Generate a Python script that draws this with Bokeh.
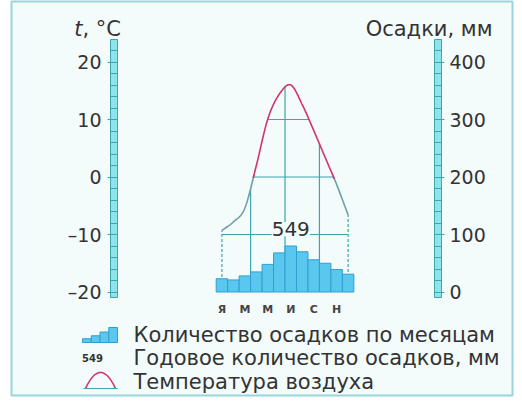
import numpy as np
from bokeh.plotting import figure
from bokeh.models import Range1d, LinearAxis, FixedTicker, Label
from bokeh.core.properties import value
from bokeh.embed import file_html
from bokeh.resources import INLINE

# ---------------- data ----------------
month_pos = [1, 2, 3, 4, 5, 6, 7, 8, 9, 10, 11, 12]
month_tick_pos = [1, 3, 5, 7, 9, 11]
month_tick_labels = ["Я", "М", "М", "И", "С", "Н"]
temperature = [-9.3, -7.8, -5.4, 2.0, 10.1, 14.4, 16.0, 12.6, 8.1, 3.4, -1.3, -6.6]
precipitation = [23, 21, 28, 35, 48, 68, 80, 70, 56, 50, 39, 31]
annual_total = "549"
temp_ticks = [-20, -10, 0, 10, 20]
temp_tick_labels = ["–20", "–10", "0", "10", "20"]
precip_ticks = [0, 100, 200, 300, 400]
precip_tick_labels = ["0", "100", "200", "300", "400"]
grid_levels = [-10, 0, 10]
grid_bounds = [3.5, 6.5, 9.5]
legend_labels = ["Количество осадков по месяцам",
                 "Годовое количество осадков, мм",
                 "Температура воздуха"]

# ---------------- layout helpers (canvas px -> data) ----------------
def X(px):
    return 0.5 + (px - 215.7) / 11.47

def Y(py):
    return (176.5 - py) / 5.75

BG = "#f3fbfb"
TEAL = "#3aa6ad"
TXT = "#333333"
FONT = "DejaVu Sans"

p = figure(width=514, height=397, output_backend="svg", toolbar_location=None,
           x_axis_type=None, y_axis_type=None,
           x_range=Range1d(X(11), X(512)), y_range=Range1d(Y(395), Y(1)),
           min_border_left=11, min_border_right=2, min_border_top=1, min_border_bottom=2,
           background_fill_color=BG, border_fill_color="white")
p.extra_y_ranges = {"precip": Range1d((Y(395) + 20) * 10, (Y(1) + 20) * 10)}
p.grid.visible = False
p.outline_line_color = "#9ad6d9"
p.outline_line_width = 2

# ---------------- temperature curve (smooth through monthly values) ----------------
xc = np.array(month_pos, dtype=float)
yc = np.array(temperature, dtype=float)
P = np.concatenate([[2 * yc[0] - yc[1]], yc, [2 * yc[-1] - yc[-2]]])
cx, cy = [], []
for i in range(len(yc) - 1):
    p0, p1, p2, p3 = P[i], P[i + 1], P[i + 2], P[i + 3]
    s = np.linspace(0, 1, 30, endpoint=False)
    yy = 0.5 * (2 * p1 + (-p0 + p2) * s + (2 * p0 - 5 * p1 + 4 * p2 - p3) * s ** 2
                + (-p0 + 3 * p1 - 3 * p2 + p3) * s ** 3)
    cx.append(xc[i] + s * (xc[i + 1] - xc[i]))
    cy.append(yy)
cx.append([xc[-1]]); cy.append([yc[-1]])
cx = np.concatenate(cx); cy = np.concatenate(cy)

# ---------------- inner grid ----------------
for lvl in grid_levels:
    m = cy >= lvl
    p.segment(x0=[cx[m].min()], y0=[lvl], x1=[cx[m].max()], y1=[lvl],
              line_color=TEAL, line_width=1.2)
for gx in grid_bounds:
    top = float(np.interp(gx, cx, cy))
    p.segment(x0=[gx], y0=[-20], x1=[gx], y1=[top], line_color=TEAL, line_width=1.2)
for gx in [month_pos[0], month_pos[-1]]:
    top = float(np.interp(gx, cx, cy))
    p.segment(x0=[gx], y0=[-20], x1=[gx], y1=[top], line_color=TEAL,
              line_width=1.2, line_dash="3 2")

# ---------------- precipitation bars ----------------
p.vbar(x=month_pos, top=precipitation, bottom=0, width=1.0, y_range_name="precip",
       fill_color="#5ac8ee", line_color="#2f9fd2", line_width=1)

# curve: red above 0, grey-teal below 0
pos = np.where(cy >= -0.4, cy, np.nan)
neg = np.where(cy <= 0.4, cy, np.nan)
p.line(cx, neg, line_color="#6e9ea8", line_width=1.6)
p.line(cx, pos, line_color="#d2336e", line_width=1.6)

p.add_layout(Label(x=7, y=-9.1, text=annual_total, text_align="center",
                   text_baseline="middle", text_font=FONT, text_font_size="20px",
                   text_color=TXT, background_fill_color=BG))

# ---------------- thermometer-like scales ----------------
p.quad(left=[X(110)], right=[X(117)], bottom=[Y(297)], top=[Y(39)],
       fill_color="#8fe3ea", line_color=TEAL, line_width=1)
p.quad(left=[X(434)], right=[X(441)], bottom=[Y(297)], top=[Y(39)],
       fill_color="#8fe3ea", line_color=TEAL, line_width=1)

def style_axis(ax):
    ax.axis_line_color = None
    ax.major_tick_line_color = TEAL
    ax.minor_tick_line_color = TEAL
    ax.major_tick_line_width = 1.2
    ax.minor_tick_line_width = 1
    ax.major_tick_in = 7
    ax.major_tick_out = 3
    ax.minor_tick_in = 7
    ax.minor_tick_out = 0
    ax.major_label_text_font = FONT
    ax.major_label_text_font_size = "19px"
    ax.major_label_text_color = TXT

lax = LinearAxis(fixed_location=X(110),
                 ticker=FixedTicker(ticks=temp_ticks, minor_ticks=list(range(-20, 23, 2))),
                 major_label_overrides={t: l for t, l in zip(temp_ticks, temp_tick_labels)})
style_axis(lax)
lax.major_label_standoff = 6
p.add_layout(lax, "left")

rax = LinearAxis(fixed_location=X(441), y_range_name="precip",
                 ticker=FixedTicker(ticks=precip_ticks, minor_ticks=list(range(0, 430, 20))),
                 major_label_overrides={t: l for t, l in zip(precip_ticks, precip_tick_labels)})
style_axis(rax)
rax.major_label_standoff = 5
p.add_layout(rax, "right")

bax = LinearAxis(fixed_location=-20,
                 ticker=FixedTicker(ticks=month_tick_pos),
                 major_label_overrides={t: l for t, l in zip(month_tick_pos, month_tick_labels)})
bax.axis_line_color = None
bax.major_tick_line_color = None
bax.minor_tick_line_color = None
bax.major_label_standoff = 5
bax.major_label_text_font = FONT
bax.major_label_text_font_size = "11px"
bax.major_label_text_font_style = "bold"
bax.major_label_text_color = "#444444"
p.add_layout(bax, "below")

# ---------------- axis titles ----------------
p.text(x=[X(82)], y=[Y(28)], text=["t"], text_align="right", text_baseline="alphabetic",
       text_font=value(FONT), text_font_size="21px", text_font_style="italic", text_color=TXT)
p.text(x=[X(82)], y=[Y(28)], text=[", °C"], text_align="left", text_baseline="alphabetic",
       text_font=value(FONT), text_font_size="21px", text_color=TXT)
p.text(x=[X(492)], y=[Y(28)], text=["Осадки, мм"], text_align="right",
       text_baseline="alphabetic", text_font=value(FONT), text_font_size="21px",
       text_color=TXT)

# ---------------- legend ----------------
row_y = [Y(334), Y(357), Y(381)]
p.text(x=[X(133)] * 3, y=row_y, text=legend_labels, text_align="left",
       text_baseline="middle", text_font=value(FONT), text_font_size="21px", text_color=TXT)
# icon 1: small stepped bars
icon_rel = [0.25, 0.45, 0.7, 1.0]
edges = np.linspace(X(82), X(117), len(icon_rel) + 1)
p.quad(left=edges[:-1], right=edges[1:], bottom=[Y(342)] * 4,
       top=[Y(342) + r * (Y(327) - Y(342)) for r in icon_rel],
       fill_color="#5ac8ee", line_color="#2f9fd2", line_width=1)
# icon 2: small annual total
p.text(x=[X(92)], y=[row_y[1]], text=[annual_total], text_align="center",
       text_baseline="middle", text_font=value(FONT), text_font_size="10px",
       text_font_style="bold", text_color=TXT)
# icon 3: arch
ax_ = np.linspace(X(85), X(115), 40)
u = (ax_ - (X(85) + X(115)) / 2) / ((X(115) - X(85)) / 2)
p.line(ax_, Y(388) + (Y(372) - Y(388)) * (1 - u ** 2), line_color="#d2336e", line_width=1.5)
p.segment(x0=[X(83)], y0=[Y(388)], x1=[X(117)], y1=[Y(388)], line_color=TEAL, line_width=1.2)

open("out.html", "w").write(file_html(p, INLINE))
